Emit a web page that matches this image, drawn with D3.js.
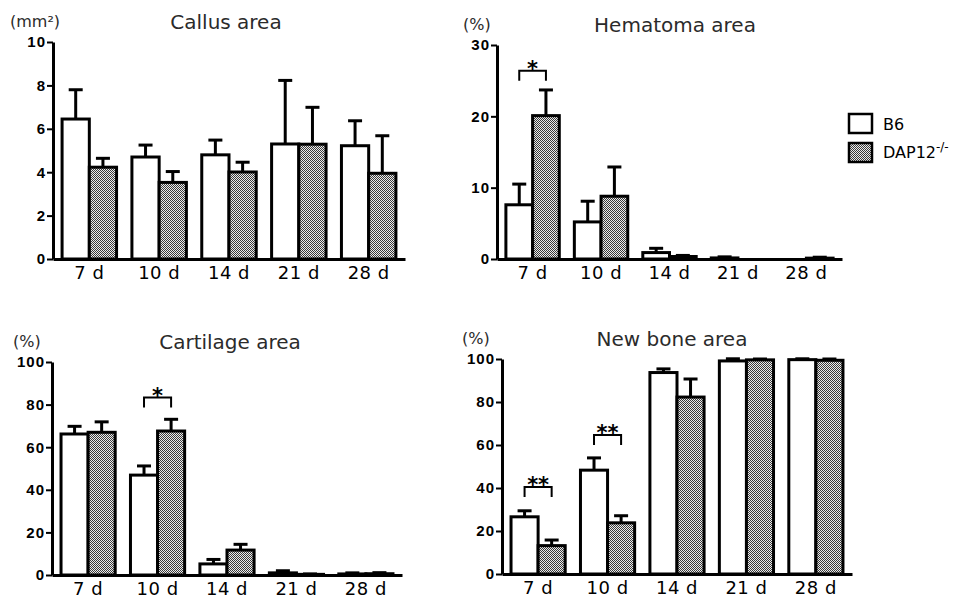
<!DOCTYPE html>
<meta charset="utf-8">
<head>
 <title>Fracture healing</title>
</head>

<style>
body { margin: 0; background: #fff; }
svg { display: block; }
.title { font-family: "DejaVu Sans", Verdana, sans-serif; font-size: 20px; fill: #2b2b2b; text-anchor: middle; }
.unit { font-family: "DejaVu Sans", Verdana, sans-serif; font-size: 16px; fill: #2b2b2b; }
.yaxis text { font-family: "Liberation Sans", Arial, sans-serif; font-weight: bold; font-size: 15px; letter-spacing: 1px; fill: #000; }
.xaxis text { font-family: "DejaVu Sans", Verdana, sans-serif; font-size: 18px; letter-spacing: 0.5px; fill: #000; }
.legend text { font-family: "DejaVu Sans", Verdana, sans-serif; font-size: 16px; fill: #000; }
.star { font-family: "DejaVu Sans", Verdana, sans-serif; font-weight: bold; font-size: 21px; text-anchor: middle; }
</style>

<body>
 <div id="content">
   <svg width="961" height="599"></svg>
 </div>

 <script src="https://d3js.org/d3.v7.min.js"></script>

 <script>
// categories and series names
var days = ['7 d', '10 d', '14 d', '21 d', '28 d']
var groups = ['B6', 'DAP12']

// Callus area (mm2): mean and mean+SD
var callusB6 = [6.45, 4.7, 4.8, 5.3, 5.22]
var callusB6Err = [7.8, 5.25, 5.48, 8.23, 6.37]
var callusDAP = [4.23, 3.53, 4.01, 5.29, 3.95]
var callusDAPErr = [4.64, 4.03, 4.46, 6.99, 5.68]

// Hematoma area (%)
var hemaB6 = [7.6, 5.2, 0.9, 0.15, 0]
var hemaB6Err = [10.5, 8.1, 1.5, 0.3, 0]
var hemaDAP = [20.1, 8.8, 0.35, 0, 0.12]
var hemaDAPErr = [23.7, 12.9, 0.5, 0, 0.25]

// Cartilage area (%)
var cartB6 = [66.2, 46.9, 5.2, 1.0, 0.5]
var cartB6Err = [69.8, 51.2, 7.3, 2.0, 1.0]
var cartDAP = [67.0, 67.6, 11.7, 0.3, 0.6]
var cartDAPErr = [71.9, 73.1, 14.4, 0.5, 1.1]

// New bone area (%)
var boneB6 = [26.6, 48.3, 93.7, 99.1, 99.7]
var boneB6Err = [29.4, 54.0, 95.4, 100.1, 100.1]
var boneDAP = [13.2, 23.8, 82.3, 99.6, 99.4]
var boneDAPErr = [15.8, 27.1, 90.7, 100.0, 100.0]

// significance brackets: day index, label, level
var hemaSig = [{day: 0, label: '*', level: 26.4}]
var cartSig = [{day: 1, label: '*', level: 83.3}]
var boneSig = [{day: 0, label: '**', level: 40.5}, {day: 1, label: '**', level: 64.6}]

var svg = d3.select('svg')

// checkered fill used for DAP12-/- bars
var defs = svg.append('defs')
var pat = defs.append('pattern')
  .attr('id', 'checker')
  .attr('patternUnits', 'userSpaceOnUse')
  .attr('width', 2).attr('height', 2)
pat.append('rect').attr('width', 2).attr('height', 2).attr('fill', '#ececec')
pat.append('rect').attr('width', 1).attr('height', 1).attr('fill', '#3a3a3a')
pat.append('rect').attr('x', 1).attr('y', 1).attr('width', 1).attr('height', 1).attr('fill', '#3a3a3a')

function drawPanel(opt) {
  var g = svg.append('g')

  var x = d3.scaleBand()
    .domain(days)
    .range([opt.x0, opt.x1])
    .paddingInner(0.22)
    .paddingOuter(0.13)

  var xs = d3.scaleBand()
    .domain(groups)
    .range([0, x.bandwidth()])

  var y = d3.scaleLinear()
    .domain([0, opt.max])
    .range([opt.y0, opt.yTop])

  // title and unit
  g.append('text').attr('class', 'title')
    .attr('x', opt.titleX).attr('y', opt.yTop - 13)
    .text(opt.title)
  g.append('text').attr('class', 'unit')
    .attr('x', opt.unitX).attr('y', opt.yTop - 15)
    .text(opt.unit)

  var series = [
    {key: 'B6', vals: opt.b6, errs: opt.b6Err, fill: '#fff'},
    {key: 'DAP12', vals: opt.dap, errs: opt.dapErr, fill: 'url(#checker)'}
  ]

  series.forEach(function(s) {
    // error bars (upper only)
    var eb = g.selectAll('.eb-' + s.key)
      .data(days.map(function(d, i) { return {day: d, v: s.vals[i], e: s.errs[i]} }))
      .enter()
    eb.append('line')
      .attr('x1', function(d) { return x(d.day) + xs(s.key) + xs.bandwidth() / 2 })
      .attr('x2', function(d) { return x(d.day) + xs(s.key) + xs.bandwidth() / 2 })
      .attr('y1', function(d) { return y(d.v) })
      .attr('y2', function(d) { return y(d.e) })
      .attr('stroke', '#000').attr('stroke-width', 3)
    eb.append('line')
      .attr('x1', function(d) { return x(d.day) + xs(s.key) + xs.bandwidth() / 2 - 7 })
      .attr('x2', function(d) { return x(d.day) + xs(s.key) + xs.bandwidth() / 2 + 7 })
      .attr('y1', function(d) { return y(d.e) })
      .attr('y2', function(d) { return y(d.e) })
      .attr('stroke', '#000').attr('stroke-width', 3)
      .attr('opacity', function(d) { return d.e > d.v ? 1 : 0 })
  })

  series.forEach(function(s) {
    g.selectAll('.bar-' + s.key)
      .data(days.map(function(d, i) { return {day: d, v: s.vals[i]} }))
      .enter()
      .append('rect')
      .attr('x', function(d) { return x(d.day) + xs(s.key) })
      .attr('width', xs.bandwidth())
      .attr('y', function(d) { return y(d.v) })
      .attr('height', function(d) { return y(0) - y(d.v) })
      .attr('fill', s.fill)
      .attr('stroke', '#000').attr('stroke-width', 3)
  })

  // axes
  var ya = g.append('g').attr('class', 'yaxis')
    .attr('transform', 'translate(' + opt.x0 + ',0)')
    .call(d3.axisLeft(y).tickValues(opt.ticks).tickSize(6).tickSizeOuter(0).tickPadding(1))
  ya.select('.domain').attr('stroke-width', 3)
  ya.selectAll('.tick line').attr('stroke-width', 2)

  var xa = g.append('g').attr('class', 'xaxis')
    .attr('transform', 'translate(0,' + opt.y0 + ')')
    .call(d3.axisBottom(x).tickSize(0).tickPadding(7))
  xa.select('.domain').attr('stroke-width', 3)

  // significance brackets
  opt.sig.forEach(function(sg) {
    var d = days[sg.day]
    var xa1 = x(d) + xs('B6') + xs.bandwidth() / 2
    var xa2 = x(d) + xs('DAP12') + xs.bandwidth() / 2
    var yt = y(sg.level)
    g.append('path')
      .attr('d', 'M' + xa1 + ',' + (yt + 10) + 'V' + yt + 'H' + xa2 + 'V' + (yt + 10))
      .attr('fill', 'none').attr('stroke', '#000').attr('stroke-width', 2)
    g.append('text').attr('class', 'star')
      .attr('x', (xa1 + xa2) / 2).attr('y', yt + 5)
      .text(sg.label)
  })
}

drawPanel({title: 'Callus area', unit: '(mm\u00b2)', titleX: 226, unitX: 10,
  x0: 53, x1: 405, y0: 259, yTop: 42, max: 10, ticks: [0, 2, 4, 6, 8, 10],
  b6: callusB6, b6Err: callusB6Err, dap: callusDAP, dapErr: callusDAPErr, sig: []})

drawPanel({title: 'Hematoma area', unit: '(%)', titleX: 675, unitX: 463,
  x0: 497, x1: 842, y0: 259, yTop: 45, max: 30, ticks: [0, 10, 20, 30],
  b6: hemaB6, b6Err: hemaB6Err, dap: hemaDAP, dapErr: hemaDAPErr, sig: hemaSig})

drawPanel({title: 'Cartilage area', unit: '(%)', titleX: 230, unitX: 13,
  x0: 52, x1: 402, y0: 575, yTop: 362, max: 100, ticks: [0, 20, 40, 60, 80, 100],
  b6: cartB6, b6Err: cartB6Err, dap: cartDAP, dapErr: cartDAPErr, sig: cartSig})

drawPanel({title: 'New bone area', unit: '(%)', titleX: 672, unitX: 462,
  x0: 502, x1: 852, y0: 574, yTop: 359, max: 100, ticks: [0, 20, 40, 60, 80, 100],
  b6: boneB6, b6Err: boneB6Err, dap: boneDAP, dapErr: boneDAPErr, sig: boneSig})

// legend
var lg = svg.append('g').attr('class', 'legend')
lg.append('rect').attr('x', 849).attr('y', 114).attr('width', 23).attr('height', 19)
  .attr('fill', '#fff').attr('stroke', '#000').attr('stroke-width', 2.5)
lg.append('rect').attr('x', 849).attr('y', 143).attr('width', 23).attr('height', 19)
  .attr('fill', 'url(#checker)').attr('stroke', '#000').attr('stroke-width', 2.5)
lg.append('text').attr('x', 883).attr('y', 130).text('B6')
var t2 = lg.append('text').attr('x', 883).attr('y', 158).text('DAP12')
t2.append('tspan').attr('dy', -7).attr('font-size', 12).text('-/-')
 </script>

</body>
</html>
